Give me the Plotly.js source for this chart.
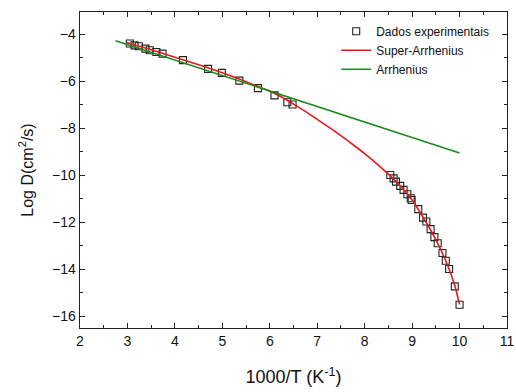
<!DOCTYPE html>
<html>
<head>
<meta charset="utf-8">
<script src="https://cdn.plot.ly/plotly-3.0.1.min.js"></script>
<style>html,body{margin:0;padding:0;background:#fff;}#chart{width:516px;height:392px;}</style>
</head>
<body>
<div id="chart"></div>
<script>
// Experimental data (1000/T, log D)
const expX = [3.05, 3.15, 3.24, 3.38, 3.47, 3.61, 3.74, 4.17, 4.70, 4.99, 5.36, 5.75, 6.10, 6.37, 6.48,
              8.54, 8.61, 8.66, 8.75, 8.82, 8.90, 8.97, 8.99, 9.13, 9.23, 9.30, 9.39, 9.47, 9.54, 9.64, 9.71, 9.78, 9.90, 10.0];
const expY = [-4.39, -4.47, -4.51, -4.61, -4.68, -4.75, -4.82, -5.10, -5.47, -5.64, -5.97, -6.29, -6.60, -6.89, -6.99,
              -9.99, -10.13, -10.27, -10.45, -10.62, -10.81, -10.98, -11.05, -11.44, -11.80, -11.97, -12.29, -12.63, -12.89, -13.31, -13.64, -13.99, -14.73, -15.51];

// Super-Arrhenius fit curve
const superX = [2.98, 3.5, 4.0, 4.5, 5.0, 5.5, 6.0, 6.25, 6.5, 6.75, 7.0, 7.25, 7.5, 7.75, 8.0, 8.25, 8.5, 8.75, 9.0, 9.25, 9.5, 9.75, 9.9, 10.0];
const superY = [-4.35, -4.66, -4.98, -5.30, -5.64, -6.02, -6.42, -6.67, -6.97, -7.28, -7.62, -7.96, -8.31, -8.69, -9.08, -9.50, -9.95, -10.45, -11.05, -11.85, -12.74, -13.84, -14.70, -15.5];

// Arrhenius fit line
const arrX = [2.75, 10.0];
const arrY = [-4.27, -9.05];

const names = ["Dados experimentais", "Super-Arrhenius", "Arrhenius"];

const font = {family: "Liberation Sans, Arial, sans-serif", color: "#111"};

const traces = [
  {x: superX, y: superY, mode: "lines", name: names[1], line: {color: "#e31a1c", width: 1.6, shape: "spline", smoothing: 0.6}},
  {x: arrX, y: arrY, mode: "lines", name: names[2], line: {color: "#1c8a1c", width: 1.6}},
  {x: expX, y: expY, mode: "markers", name: names[0],
   marker: {symbol: "square-open", size: 7, color: "#222", line: {width: 1.1, color: "#222"}}}
];

const axisCommon = {
  showgrid: false, zeroline: false, showline: true, linecolor: "#222", linewidth: 1.4,
  mirror: "ticks", ticks: "inside", ticklen: 5, tickwidth: 1.2, tickcolor: "#222",
  tickfont: Object.assign({size: 14}, font)
};

const layout = {
  width: 516, height: 392,
  margin: {l: 80, r: 9, t: 12, b: 64},
  paper_bgcolor: "#fff", plot_bgcolor: "#fff",
  showlegend: true,
  legend: {x: 0.6, y: 0.985, xanchor: "left", yanchor: "top", bgcolor: "rgba(0,0,0,0)",
           font: Object.assign({size: 12}, font), tracegroupgap: 0, itemwidth: 30,
           traceorder: "normal"},
  xaxis: Object.assign({}, axisCommon, {
    range: [2, 11], dtick: 1, tick0: 2,
    minor: {dtick: 0.5, ticks: "inside", ticklen: 3, tickcolor: "#222", tickwidth: 1},
    title: {text: "1000/T (K<sup>-1</sup>)", font: Object.assign({size: 18}, font), standoff: 22}
  }),
  yaxis: Object.assign({}, axisCommon, {
    range: [-16.5, -3.05], dtick: 2, tick0: -16,
    minor: {dtick: 1, ticks: "inside", ticklen: 3, tickcolor: "#222", tickwidth: 1},
    title: {text: "Log D(cm<sup>2</sup>/s)", font: Object.assign({size: 16}, font), standoff: 14}
  })
};

// Legend order: experimental first
const ordered = [traces[2], traces[0], traces[1]];
Plotly.newPlot("chart", ordered, layout, {staticPlot: true, displayModeBar: false});
</script>
</body>
</html>
